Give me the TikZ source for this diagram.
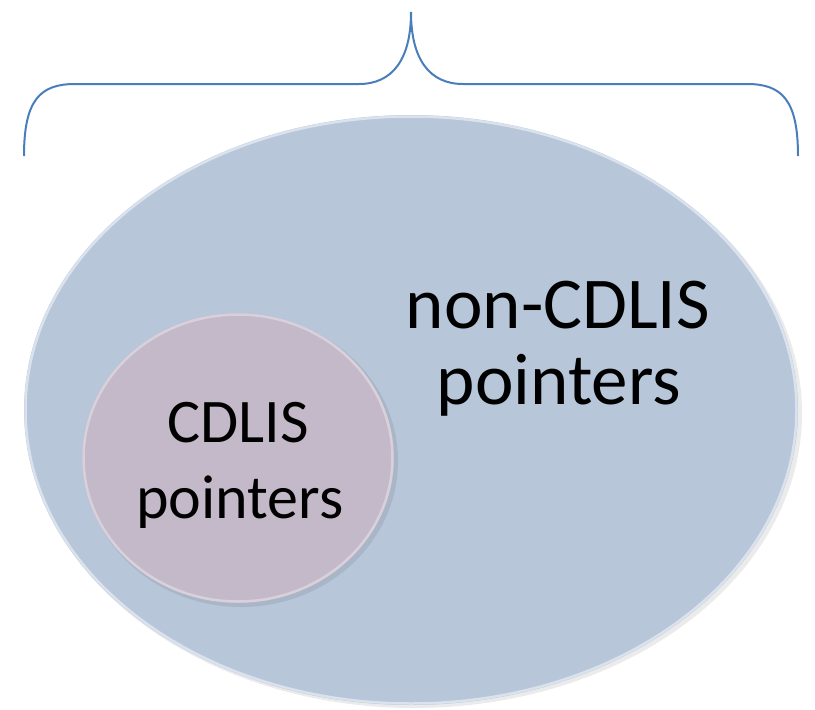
\documentclass[tikz,border=0pt]{standalone}
\usepackage{fontspec}
\setmainfont{Carlito}
\definecolor{bracecol}{RGB}{74,126,187}
\definecolor{bigfill}{RGB}{183,198,217}
\definecolor{smallfill}{RGB}{196,185,200}
\definecolor{rimcol}{RGB}{232,238,246}
\begin{document}
\begin{tikzpicture}[x=1pt,y=-1pt,
  bracestyle/.style={draw=bracecol,line width=2pt},
  setshape/.style={line width=2.5pt},
  bigtext/.style={anchor=base,inner sep=0pt,font=\fontsize{73}{76}\selectfont},
  smalltext/.style={anchor=base,inner sep=0pt,font=\fontsize{62}{76}\selectfont}]
\useasboundingbox (0,0) rectangle (815,710);
% brace
\draw[bracestyle] (24,156) .. controls (24,100) and (40,84) .. (75,84)
  -- (359,84) .. controls (392,84) and (411,60) .. (411,12)
  .. controls (411,60) and (430,84) .. (463,84)
  -- (747,84) .. controls (782,84) and (798,100) .. (798,156);
% big set: shadow, fill, rim
\fill[black,opacity=0.08] (414,413) ellipse [x radius=388, y radius=295];
\fill[bigfill] (411,410) ellipse [x radius=387, y radius=295];
\draw[rimcol,setshape,opacity=0.7] (411,410) ellipse [x radius=385.5, y radius=293.5];
% small set
\fill[black,opacity=0.08] (241,461) ellipse [x radius=157, y radius=146];
\fill[smallfill] (238,458) ellipse [x radius=156, y radius=145];
\draw[white,setshape,opacity=0.35] (238,458) ellipse [x radius=154.5, y radius=143.5];
% labels
\node[bigtext] (noncdlisA) at (558,328) {non-CDLIS};
\node[bigtext] (noncdlisB) at (559,404) {pointers};
\node[smalltext] (cdlisA) at (238,442) {CDLIS};
\node[smalltext] (cdlisB) at (240,518) {pointers};
\end{tikzpicture}
\end{document}
